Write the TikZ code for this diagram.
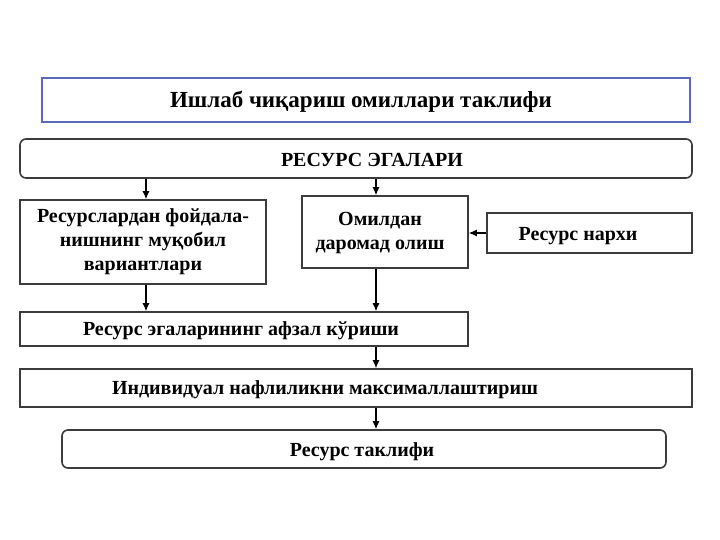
\documentclass[tikz,border=0pt]{standalone}
\usepackage{fontspec}
\setmainfont{Liberation Serif}
\usetikzlibrary{arrows.meta}
\definecolor{frameblue}{RGB}{92,104,196}
\definecolor{framegray}{RGB}{60,60,60}

\tikzset{
  box/.style={draw=framegray, line width=1.6pt, fill=white, font=\bfseries\fontsize{20}{24}\selectfont, align=center, inner sep=0pt},
  roundbox/.style={box, rounded corners=6pt},
  boxtext/.style={font=\bfseries\fontsize{20}{24}\selectfont},
  arr/.style={-{Latex[length=8pt,width=7pt]}, line width=1.1pt, draw=black}
}

\begin{document}
\begin{tikzpicture}[x=1pt,y=-1pt]
\useasboundingbox (0,0) rectangle (720,540);
% title and resource owners
\node[box, draw=frameblue, minimum width=648pt, minimum height=44pt] (title) at (366,100) {};
\node[font=\bfseries\fontsize{23}{27}\selectfont] (titletext) at (361,102) {Ишлаб чиқариш омиллари таклифи};
\node[roundbox, minimum width=672pt, minimum height=39pt] (owners) at (356,158.5) {};
\node[boxtext] (ownerstext) at (372,160) {РЕСУРС ЭГАЛАРИ};
% second row
\node[box, minimum width=246pt, minimum height=84pt] (alt) at (143,242) {Ресурслардан фойдала-\\нишнинг муқобил\\вариантлари};
\node[box, minimum width=166pt, minimum height=72pt] (income) at (385,232) {};
\node[boxtext, align=center] (incometext) at (380,233) {Омилдан\\даромад олиш};
\node[box, minimum width=205pt, minimum height=40pt] (price) at (589.5,233) {};
\node[boxtext] (pricetext) at (578,236) {Ресурс нархи};
% lower boxes
\node[box, minimum width=448pt, minimum height=34pt] (pref) at (244,329) {};
\node[boxtext] (preftext) at (241,331) {Ресурс эгаларининг афзал кўриши};
\node[box, minimum width=672pt, minimum height=38pt] (maxu) at (356,388) {};
\node[boxtext] (maxutext) at (325,390) {Индивидуал нафлиликни максималлаштириш};
\node[roundbox, minimum width=604pt, minimum height=38pt] (supply) at (364,449) {};
\node[boxtext] (supplytext) at (362,452) {Ресурс таклифи};
% connectors
\coordinate (lx) at (146,0);
\coordinate (mx) at (376,0);
\draw[arr] (owners.south -| lx) -- (alt.north -| lx);
\draw[arr] (owners.south -| mx) -- (income.north -| mx);
\draw[arr] (price.west) -- (income.east |- price.west);
\draw[arr] (alt.south -| lx) -- (pref.north -| lx);
\draw[arr] (income.south -| mx) -- (pref.north -| mx);
\draw[arr] (pref.south -| mx) -- (maxu.north -| mx);
\draw[arr] (maxu.south -| mx) -- (supply.north -| mx);
\end{tikzpicture}
\end{document}
